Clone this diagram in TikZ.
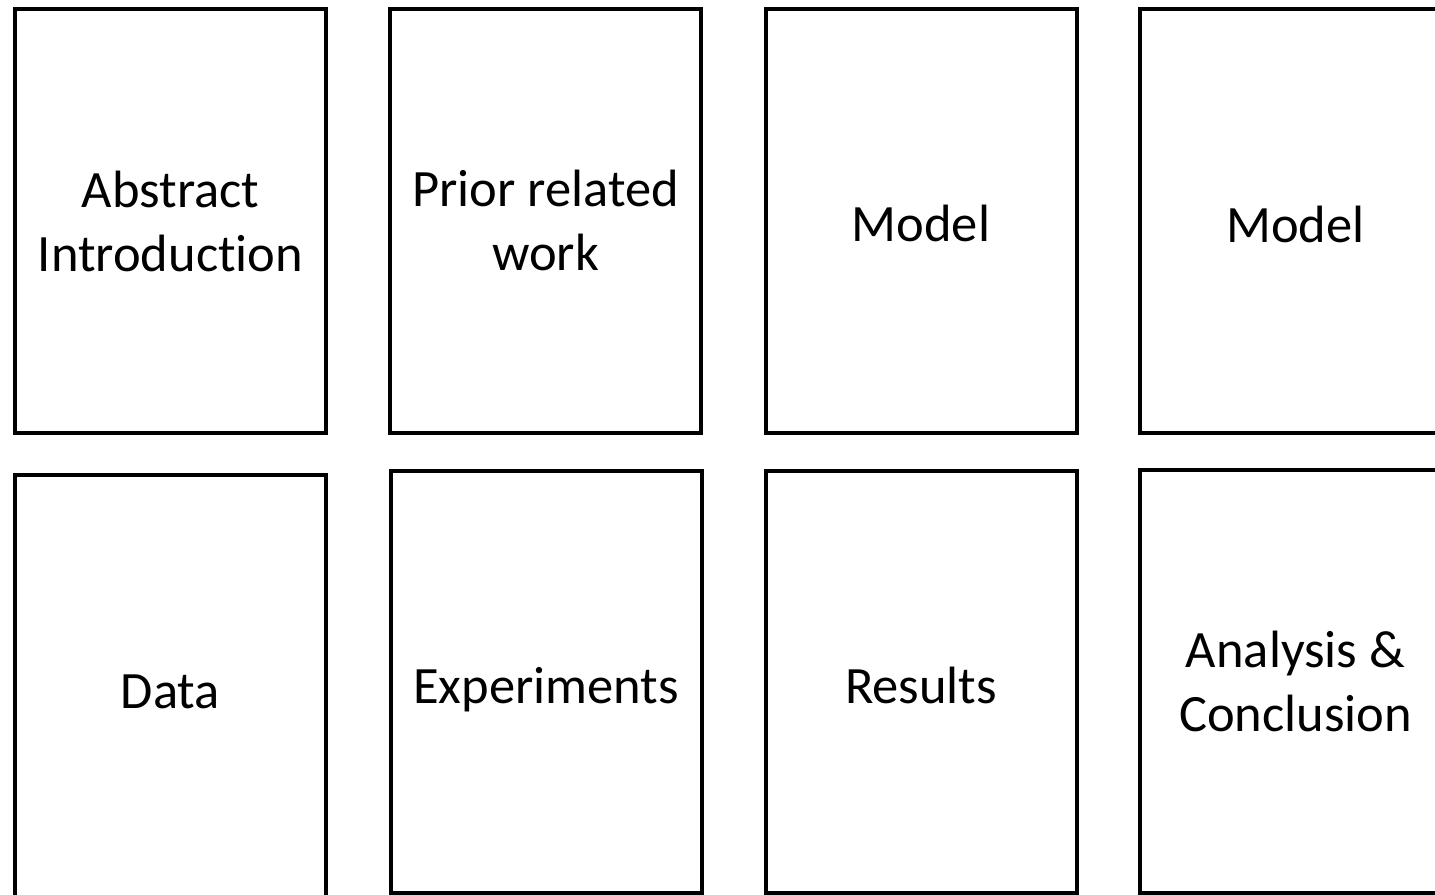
\documentclass[tikz,border=0pt]{standalone}
\usepackage{fontspec}
\setmainfont{Carlito}[Ligatures={NoCommon,NoDiscretionary,NoRare}]
\usepackage{tikz}
\usetikzlibrary{positioning}
\tikzset{page/.style={draw, line width=4bp, minimum width=311bp, minimum height=424bp, inner sep=0pt, outer sep=0pt, align=center, font=\fontsize{52.5bp}{64bp}\selectfont},
  oneline/.style={text height=42bp, text depth=0bp}}

\begin{document}
\begin{tikzpicture}[line join=miter]
%%
\useasboundingbox (0bp,0bp) rectangle (1435bp,-895bp);
\clip (0bp,0bp) rectangle (1435bp,-895bp);
% top row
\node (abstract) at (170.5bp,-221bp) [page] {\raisebox{-2bp}{Abstract}\\\raisebox{-2bp}{Introduction}};
  \node (prior) at (545.5bp,-220.5bp) [page] {\raisebox{-2bp}{Prior related}\\\raisebox{-2bp}{work}};
  \node (modela) at (921bp,-220.5bp) [page, oneline] {Model};
  \node (modelb) at (1295.5bp,-221bp) [page, oneline] {Model};
% bottom row
\node (data) at (170.5bp,-687bp) [page, oneline] {Data};
  \node (experiments) at (546bp,-682bp) [page, oneline, minimum height=422bp] {Experiments};
  \node (results) at (921bp,-682bp) [page, oneline, minimum height=422bp] {Results};
  \node (analysis) at (1295.5bp,-681.5bp) [page, minimum height=423bp] {\raisebox{-2bp}{Analysis \&}\\\raisebox{-2bp}{Conclusion}};
%
\end{tikzpicture}
\end{document}
